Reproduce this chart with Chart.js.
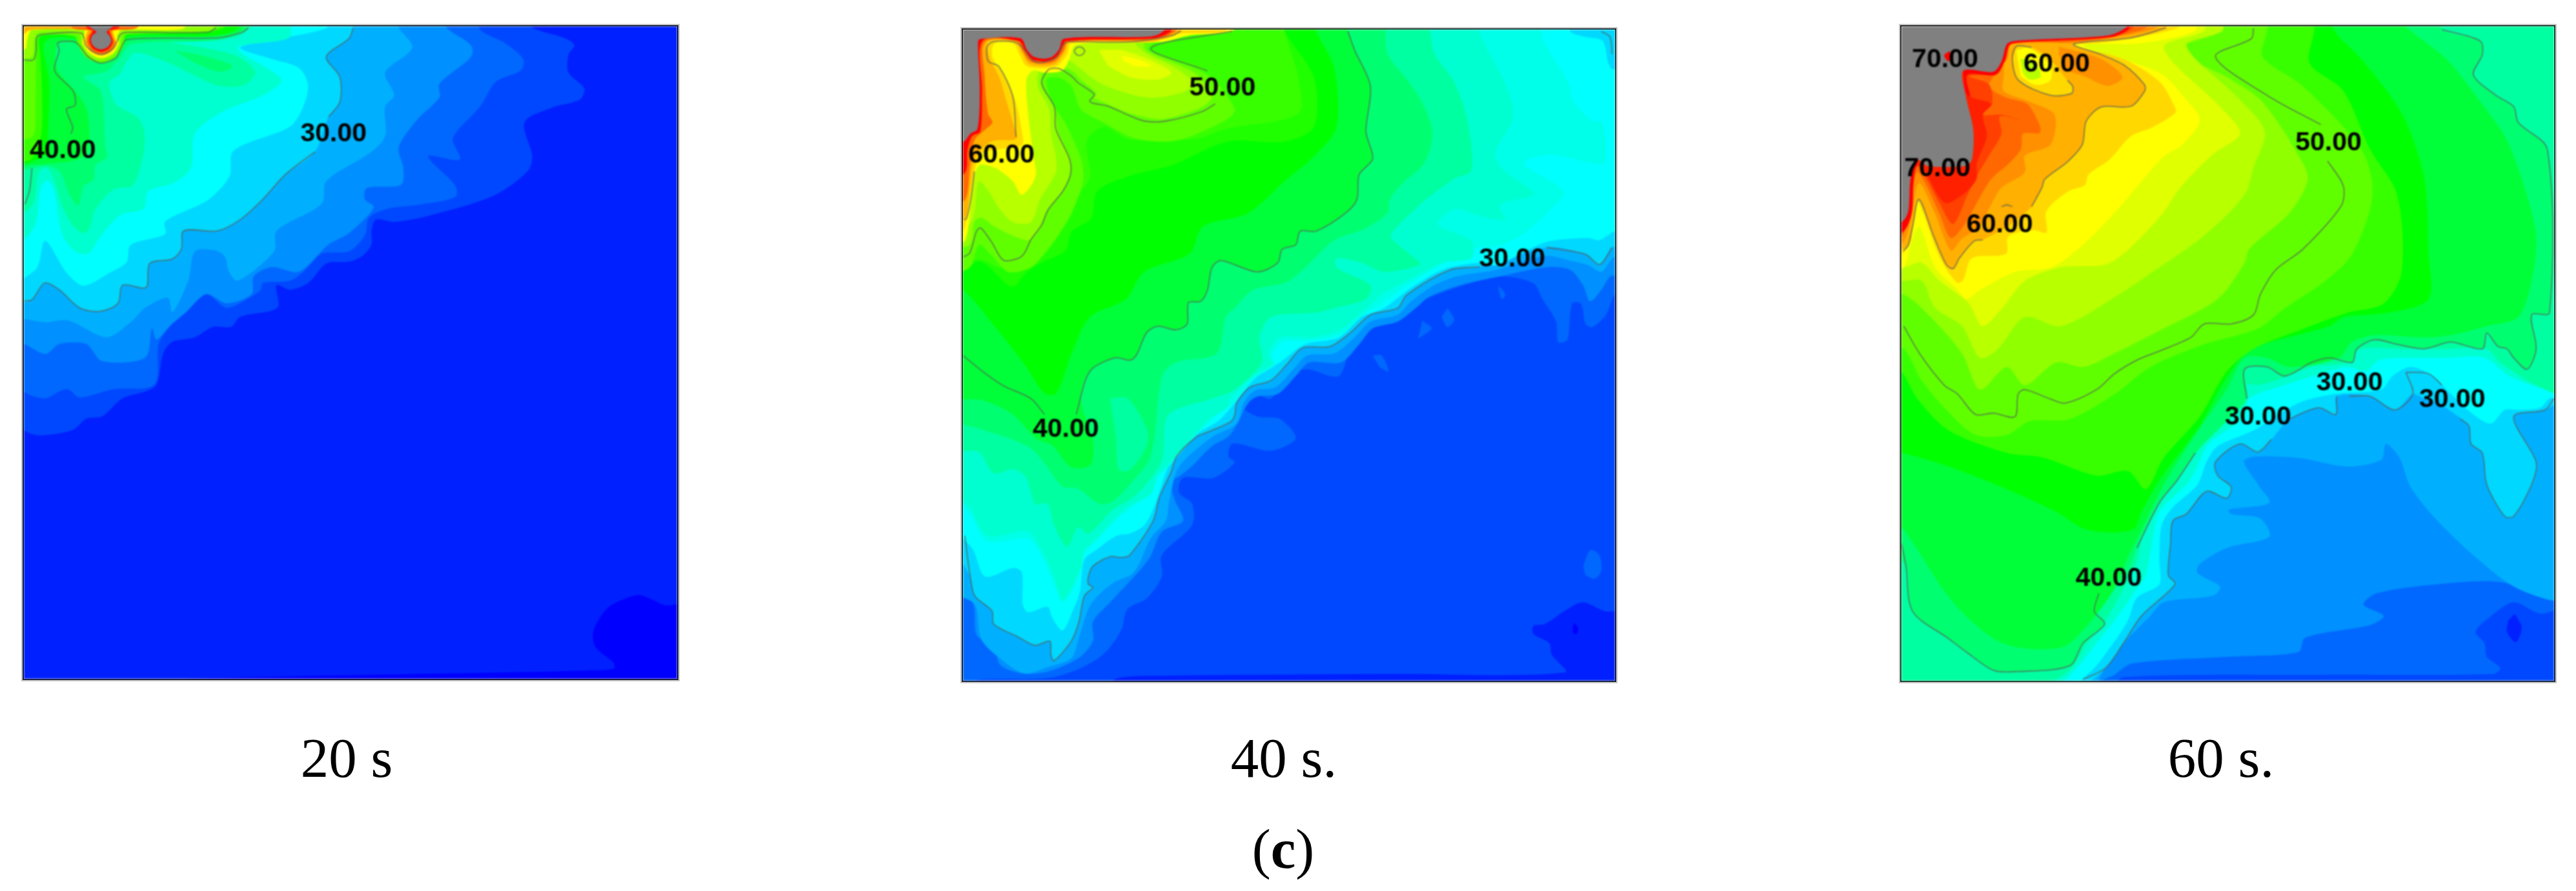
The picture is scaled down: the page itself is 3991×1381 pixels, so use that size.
<!DOCTYPE html>
<html>
<head>
<meta charset="utf-8">
<title>Temperature contours</title>
<script src="https://cdn.jsdelivr.net/npm/chart.js@4/dist/chart.umd.min.js"></script>
<style>
  html, body { margin: 0; background: #fff; width: 3991px; height: 1381px; overflow: hidden; }
  .panel { position: absolute; box-shadow: 0 0 0 2px #1c1c1c, 0 0 0 4px #c4c4c4; }
  .panel canvas { display: block; filter: blur(0.8px); }
  .caption { position: absolute; width: 600px; margin-left: -300px; text-align: center; white-space: nowrap;
             font: 87px/100px "Liberation Serif", serif; color: #000; }
</style>
</head>
<body>
<div class="caption" style="left:537px;top:1125px">20 s</div>
<div class="caption" style="left:1989px;top:1125px">40 s.</div>
<div class="caption" style="left:3441px;top:1125px">60 s.</div>
<div class="caption" style="left:1988px;top:1266px">(<b>c</b>)</div>
<script>
// colour bands of the solver legend, coldest to hottest, then the out of range grey
// the last two are in-between shades that only the 40 s panel needs
const bandColors = ['#0000ff','#0020ff','#0048ff','#0068ff','#0090ff','#00b0ff','#00d8ff','#00ffff','#00ffd0','#00ffa0',
  '#00ff70','#00ff38','#00ff00','#38ff00','#60ff00','#90ff00','#b8ff00','#e0ff00','#ffff00','#ffd800','#ffb000',
  '#ff9000','#ff6800','#ff4000','#ff2000','#ff0000','#808080','#20ff00','#00ffe8'];

// ---- 20 s: band outlines as x,y pairs in the panel's own units
const t20_b1 = [30,40,1520,40,1520,1520,30,1520];
const t20_b0 = [1520,1330,1470,1338,1440,1325,1410,1315,1375,1325,1340,1345,1310,1395,1315,1430,1355,1465,1355,1478,1280,1482,1000,1488,500,1498,30,1510,1520,1520];
const t20_b2 = [1170,40,1175,60,1250,85,1268,100,1255,120,1255,160,1290,195,1280,220,1220,237,1158,270,1175,345,1165,378,1090,432,940,478,870,490,830,485,820,510,820,540,800,565,770,578,720,582,680,625,640,640,610,630,612,680,530,700,510,722,470,722,430,745,380,755,360,780,345,850,320,865,270,880,225,920,190,925,160,950,90,962,60,955,30,930,30,40];
const t20_b3 = [1060,40,1060,66,1115,95,1155,130,1150,155,1095,180,1060,235,1000,305,1015,352,945,345,1005,410,1005,435,925,452,860,460,815,480,805,520,770,555,710,560,670,600,640,620,580,625,575,640,555,655,500,680,455,650,410,690,375,720,350,760,340,850,250,860,175,878,150,860,130,865,100,880,60,870,30,840,30,40];
const t20_b4 = [985,40,985,60,1040,100,1040,125,970,185,970,215,920,265,880,325,890,370,885,408,810,415,805,440,825,458,770,515,725,540,660,600,600,590,560,610,555,650,500,670,455,650,410,690,375,720,345,750,335,725,320,790,225,798,190,760,130,760,100,782,52,760,30,760,30,40];
const t20_b5 = [880,40,880,60,910,105,850,160,870,210,850,235,850,300,820,335,720,400,710,450,610,510,605,555,525,620,505,600,495,565,470,552,430,555,415,620,380,690,370,658,320,680,290,710,235,745,150,708,100,712,52,705,30,705,30,40];
const t20_b6 = [780,40,780,60,770,85,720,125,750,170,750,225,725,258,695,335,630,385,580,440,530,485,480,510,405,510,400,550,380,572,330,582,322,635,270,630,260,670,220,688,175,680,130,640,98,625,70,662,30,665,30,40];
const t20_b7 = [720,40,720,62,600,88,530,105,600,130,660,150,680,190,665,245,638,281,515,333,506,390,458,442,364,489,364,517,288,541,279,579,241,603,184,631,146,602,99,532,80,593,30,617,30,40];
const t20_b8 = [640,40,638,83,525,106,621,175,581,210,492,246,430,295,421,371,383,404,326,423,317,461,265,475,222,522,194,560,165,555,137,518,118,418,104,399,90,413,76,499,30,541,30,40];
const t20_b9 = [553,40,553,59,515,83,373,90,515,120,563,158,539,187,482,189,421,163,373,139,298,116,274,144,265,163,241,182,255,229,302,258,317,286,317,333,293,409,250,418,208,466,198,503,184,515,161,499,137,456,123,409,104,371,85,380,71,451,30,475,30,40];
const t20_b10 = [30,40,560,40,548,62,482,88,290,97,262,130,232,158,184,170,222,201,232,324,236,347,210,366,206,397,184,411,172,454,154,433,132,380,104,366,71,371,30,380];
const t20_b10a = [383,111,437,120,510,142,510,151,482,158,430,139];
const t20_b11 = [30,40,540,40,530,68,480,80,285,88,262,115,225,140,190,125,165,95,127,94,125,150,165,200,190,240,197,300,190,340,160,355,100,362,60,365,30,370];
const t20_b12 = [30,40,535,40,520,65,470,78,285,80,265,100,245,120,222,128,195,115,178,92,165,84,110,84,95,100,108,180,105,300,100,340,60,360,30,362];
const t20_b13 = [30,40,500,40,490,64,300,76,270,78,268,105,245,130,222,136,195,125,175,100,165,80,95,76,85,85,88,120,92,200,90,300,70,350,30,360];
const t20_b14 = [30,40,490,40,470,68,280,76,270,105,252,128,222,138,192,128,172,100,165,80,90,78,80,90,78,230,72,300,30,310];
const t20_b15 = [30,40,470,40,465,66,272,72,265,100,250,122,222,133,195,122,178,95,175,74,84,72,75,90,70,125,30,130];
const t20_b18 = [30,40,420,40,400,64,268,66,258,80,262,95,248,118,222,128,198,118,182,95,185,75,185,66,70,66,60,85,55,108,30,110];
const t20_b20 = [30,40,300,40,300,61,250,66,252,80,256,95,245,114,222,122,200,114,188,95,190,75,193,66,80,64,60,68,52,75,30,75];
const t20_b22 = [150,40,160,62,200,68,193,80,192,95,203,111,222,118,243,111,253,95,248,80,246,68,300,62,320,40];
const t20_b25 = [185,40,190,60,205,67,199,78,197,92,205,107,222,114,240,107,248,92,244,78,240,67,262,60,270,40];
const t20_b26 = [195,40,197,58,212,70,203,78,200,90,207,103,222,109,238,103,245,90,241,78,235,70,248,58,250,40];
const t20_line30 = [780,60,770,85,720,125,750,170,750,225,725,258];
const t20_line30b = [695,335,630,385,580,440,530,485,480,510,405,510,400,550,380,572,330,582,322,635,270,630,260,670,220,688,175,680,130,640,98,625,70,662,52,665];
const t20_line40 = [548,61,534,71,482,83,279,87,265,109,255,128,222,139,194,125,179,106,165,92,127,94,130,111,120,156,161,201,165,232,146,241,160,281,156,295];
const t20_line40b = [70,371,64,423,54,451];
const t20_line50 = [52,132,73,132,79,111,80,83,90,76,180,73,189,101,222,120,250,106,265,76,279,71,458,71,477,61];
const t20_labels = ['40.00','30.00'];
const t20_labelPos = [138,333,736,296];

// ---- 40 s
const t40_b2 = [30,40,1520,40,1520,1530,30,1530];
const t40_b1 = [1520,1345,1480,1350,1430,1330,1395,1345,1345,1378,1320,1382,1320,1400,1355,1420,1360,1445,1390,1485,1000,1488,500,1492,400,1498,380,1520,1520,1520];
const t40_b0 = [1410,1375,1418,1385,1416,1400,1408,1398,1407,1385];
const t40_b3 = [1520,650,1500,650,1480,695,1450,722,1435,715,1425,670,1405,670,1395,750,1375,755,1370,710,1340,660,1320,625,1250,610,1180,625,1080,660,1000,695,920,760,890,830,820,815,790,825,740,880,713,875,680,900,713,920,760,925,795,968,740,995,656,979,646,1007,660,1021,613,1055,546,1055,537,1088,566,1112,566,1159,499,1226,499,1273,466,1321,423,1345,409,1392,371,1444,314,1478,247,1497,100,1500,30,1510,30,40,1520,40];
const t40_b3a = [1243,630,1258,650,1250,660,1243,640];
const t40_b3b = [1130,680,1145,705,1130,722,1117,700];
const t40_b3c = [1075,708,1095,725,1065,748];
const t40_b3d = [965,785,985,785,1000,820,980,810];
const t40_b3e = [1430,1250,1445,1215,1465,1225,1470,1260,1455,1278,1435,1270];
const t40_b4 = [1520,610,1490,610,1470,640,1445,665,1430,630,1400,595,1345,590,1245,610,1155,630,1090,655,1060,680,1020,710,965,725,935,760,895,800,825,800,795,830,755,870,710,875,690,890,650,960,610,985,565,1030,540,1050,520,1064,527,1102,546,1150,499,1174,470,1235,385,1330,347,1373,347,1416,314,1454,247,1483,190,1487,142,1468,128,1425,90,1402,81,1330,30,1296,30,40,1520,40];
const t40_b5 = [1520,560,1495,570,1470,600,1440,585,1400,575,1345,565,1240,595,1150,610,1100,630,1050,665,1020,695,960,710,925,745,880,780,820,785,790,815,750,855,705,862,680,890,665,935,610,965,550,1015,530,1045,515,1110,508,1150,475,1188,437,1264,390,1288,342,1335,314,1416,299,1454,247,1473,195,1487,142,1454,100,1411,86,1335,30,1296,30,40,1520,40];
const t40_b6 = [1520,545,1494,546,1466,584,1435,561,1349,546,1202,589,1135,596,1040,651,1020,680,960,695,915,735,870,765,810,768,775,805,740,840,694,855,665,889,660,917,651,931,603,953,575,965,532,1007,520,1041,494,1098,480,1150,428,1226,409,1231,385,1229,347,1250,337,1273,337,1290,347,1297,328,1316,316,1373,299,1416,261,1459,254,1445,252,1416,219,1425,181,1406,128,1378,124,1349,86,1316,76,1273,30,1183,30,40,1520,40];
const t40_b7 = [1401,40,1401,69,1435,81,1473,90,1485,138,1494,152,1520,155,1520,510,1500,510,1465,530,1440,525,1345,535,1240,585,1200,580,1120,595,1050,635,990,680,940,700,890,745,815,760,760,800,710,830,646,907,622,931,580,955,537,993,513,1031,485,1112,461,1159,428,1178,399,1183,352,1216,328,1236,318,1307,304,1345,280,1392,257,1364,247,1340,204,1352,192,1335,190,1264,171,1254,109,1273,81,1212,30,1150,30,40];
const t40_b8a = [1340,40,1340,85,1397,181,1406,219,1449,266,1473,271,1478,356,1459,361,1363,342,1306,352,1302,366,1387,423,1354,466,1302,513,1245,542,1180,550,1090,600,1040,630,985,670,945,695,895,738,820,752,765,755,740,790,750,805,705,835,655,892,646,898,610,925,580,955,510,1035,490,1055,476,1092,430,1121,392,1154,358,1192,330,1220,320,1263,282,1330,261,1290,237,1235,204,1190,114,1195,76,1135,30,1069,30,40];
const t40_b8 = [1202,40,1202,76,1254,176,1276,257,1235,337,1254,375,1321,428,1254,447,1245,461,1259,485,1197,475,1150,461,1112,485,1112,499,1183,532,1183,570,1120,580,1040,620,985,650,940,690,890,730,830,745,760,745,735,780,745,800,700,830,650,880,646,898,610,921,580,950,508,1031,489,1050,475,1088,428,1117,390,1150,356,1188,328,1216,318,1259,280,1326,261,1273,237,1221,204,1174,114,1183,76,1121,30,1069,30,40];
const t40_b9 = [1090,40,1093,76,1102,119,1145,181,1173,261,1183,375,1145,394,1093,432,1074,447,1007,513,1007,527,1064,575,1069,585,990,600,940,580,885,570,885,590,960,630,950,660,880,680,840,690,740,700,715,745,720,800,660,860,610,880,513,917,499,1017,442,1093,390,1126,337,1178,314,1164,290,1207,261,1159,247,1112,219,1112,200,1055,171,1036,128,1045,95,998,30,988,30,40];
const t40_b10 = [993,40,993,71,998,119,1045,181,1078,233,1097,295,1078,361,1031,404,1002,442,998,470,945,506,880,530,780,620,700,640,660,680,640,700,620,780,530,800,500,830,475,1007,437,1060,390,1107,361,1112,314,1079,280,1074,242,1026,214,993,166,969,95,946,30,917,30,40];
const t40_b9a = [385,879,423,879,466,946,466,984,428,1038,404,1036,399,974];
const t40_b11 = [910,40,910,68,925,110,960,190,950,290,965,350,935,385,930,440,905,470,840,510,805,510,795,540,765,550,755,580,710,600,630,575,610,590,600,640,585,665,558,668,555,715,530,728,490,720,465,735,445,780,430,795,395,790,340,820,320,880,347,974,342,1026,299,1031,257,983,223,969,166,912,105,884,30,869,30,40];
const t40_b12 = [840,40,840,68,880,150,885,280,840,340,770,400,690,470,590,500,560,560,460,600,420,660,340,700,300,780,266,868,240,868,200,810,130,720,60,640,30,640,30,40];
const t40_b27 = [770,40,770,68,835,170,835,280,770,312,645,312,522,364,428,388,357,421,343,482,300,511,286,553,239,577,201,600,168,633,97,577,30,614,30,40];
const t40_b13 = [770,40,770,68,800,170,800,250,640,284,569,307,428,307,371,279,333,312,338,397,245,492,255,530,191,577,144,591,97,572,30,581,30,40];
const t40_b14 = [560,40,560,68,480,95,470,110,600,165,660,240,640,265,530,310,440,305,370,270,320,240,300,190,270,170,245,175,255,220,290,280,320,350,325,400,300,470,270,520,240,560,210,590,160,600,120,560,95,540,75,590,30,600,30,40];
const t40_b15 = [530,40,530,68,460,95,470,115,570,160,610,210,590,235,500,262,430,250,370,225,350,215,355,205,320,175,300,155,260,145,240,155,232,185,262,240,270,290,295,350,295,385,280,420,245,465,225,510,205,530,170,520,130,500,100,480,85,490,75,540,30,540,30,40];
const t40_b16 = [500,40,500,70,440,90,460,115,530,150,570,185,540,205,470,215,390,195,350,175,290,130,260,125,230,150,225,190,250,240,255,300,265,345,265,380,230,440,210,490,170,490,140,460,115,420,95,400,85,470,70,500,30,520,30,40];
const t40_b17 = [360,110,410,110,480,135,520,160,490,175,430,170,380,145];
const t40_b18 = [670,40,655,68,560,78,500,92,310,98,295,130,280,155,240,160,215,155,200,175,205,260,215,340,220,390,190,430,170,400,130,370,95,365,80,420,65,530,30,540,30,40];
const t40_b18a = [410,122,450,132,475,145,440,145,415,135];
const t40_b19 = [650,40,640,68,530,75,480,92,300,95,290,120,268,145,240,150,200,145,185,120,170,95,130,95,125,125,150,165,175,220,190,290,190,320,130,330,100,340,85,380,70,470,60,510,30,510,30,40];
const t40_b20 = [550,40,540,70,480,90,295,92,285,115,265,140,240,145,205,140,190,115,175,92,115,92,120,130,140,170,155,220,170,270,178,305,130,310,110,320,85,350,75,420,65,480,30,490,30,40];
const t40_b22 = [540,40,530,68,485,86,292,92,282,112,262,135,238,140,208,135,192,112,178,90,108,92,108,170,115,250,125,270,110,285,85,310,75,370,65,440,30,450,30,40];
const t40_b25 = [525,40,520,68,480,84,288,90,276,112,260,130,238,135,212,130,198,112,183,90,103,90,102,200,98,290,80,300,70,330,65,380,30,400,30,40];
const t40_b26 = [510,40,503,68,475,80,283,85,272,109,258,124,239,129,215,124,201,109,187,84,97,86,93,95,97,199,92,284,76,295,62,312,30,320,30,40];
const t40_line30 = [1494,546,1466,584,1435,561,1349,546];
const t40_line30b = [1202,589,1135,596,1040,651,1020,680,960,695,915,735,870,765,810,768,775,805,740,840,694,855,665,889,660,917,651,931,603,953,575,965,532,1007,520,1041,494,1098,480,1150,428,1226,409,1231,385,1229,347,1250,337,1273,337,1290,347,1297,328,1316,316,1373,299,1416,261,1459,254,1445,252,1416,219,1425,181,1406,128,1378,124,1349,86,1316,76,1273,64,1183];
const t40_line30c = [1470,69,1489,81,1494,119];
const t40_line40 = [910,68,925,110,960,190,950,290,965,350,935,385,930,440,905,470,840,510,805,510,795,540,765,550,755,580,710,600,630,575,610,590,600,640,585,665,558,668,555,715,530,728,490,720,465,735,445,780,430,795,395,790,340,820,310,915];
const t40_line40b = [240,915,210,880,150,852,110,825,60,785];
const t40_line50 = [617,229,588,246,508,267,461,267,428,255,380,234,345,227,340,222,350,208,314,182,300,168,272,151,248,154,234,184,262,236,265,284,295,350,298,383,281,421,248,463,234,496,210,529,196,558,182,570,149,574,123,534,99,503,90,510,75,558,61,567];
const t40_line50b = [655,68,475,106,600,156];
const t40_line50c = [305,112,312,104,322,104,329,112,322,121,312,121,305,112];
const t40_line60 = [177,302,170,213,139,146,116,135,113,104,125,92,172,92,191,104,213,132,232,138,267,125,281,99,295,92,428,92,522,78,541,68];
const t40_line60b = [85,378,78,435,68,482,62,485];
const t40_labels = ['60.00','50.00','40.00','30.00'];
const t40_labelPos = [145,343,633,194,287,948,1273,572];

// ---- 60 s
const t60_b3 = [30,40,1540,40,1540,1530,30,1530];
const t60_b2 = [1540,1340,1490,1355,1430,1330,1380,1360,1345,1395,1365,1420,1370,1450,1400,1475,1385,1488,1000,1490,560,1495,540,1520,1540,1520];
const t60_b1 = [1432,1355,1448,1385,1435,1418,1415,1395,1418,1370];
const t60_b4 = [540,1490,580,1465,800,1450,950,1440,965,1408,1110,1380,1140,1360,1095,1335,1125,1310,1260,1290,1400,1285,1500,1320,1540,1320,1540,40,30,40,30,1520,470,1520];
const t60_b5 = [1540,1325,1510,1325,1430,1295,1345,1230,1260,1150,1200,1075,1175,1010,1145,980,1135,1015,1060,1030,940,1010,830,1015,860,1070,885,1110,795,1125,800,1135,865,1145,885,1185,790,1210,730,1245,725,1265,775,1295,760,1315,650,1330,620,1360,570,1410,540,1450,510,1490,490,1520,30,1520,30,40,1540,40];
const t60_b6 = [1540,880,1500,905,1430,920,1480,1020,1470,1070,1430,1140,1410,1140,1370,1070,1360,1000,1335,980,1330,940,1300,915,1260,890,1230,880,1205,870,1165,905,1110,875,1035,875,1033,915,995,900,930,925,890,970,860,998,820,980,765,1020,770,1050,800,1075,790,1100,745,1085,700,1135,670,1150,665,1200,660,1270,675,1290,600,1360,560,1420,520,1475,470,1510,30,1520,30,40,1540,40];
const t60_b7 = [1540,880,1510,880,1490,900,1440,905,1410,905,1380,935,1340,915,1290,870,1250,830,1200,810,1160,830,1135,860,1030,870,950,890,850,950,770,985,745,1020,725,1070,670,1120,645,1160,640,1240,640,1290,590,1320,570,1370,530,1430,490,1480,430,1520,30,1520,30,40,1540,40];
const t60_b8 = [1540,865,1500,860,1420,830,1365,790,1280,790,1190,790,1130,795,1100,820,1060,810,1000,825,920,850,840,880,830,920,750,980,720,1040,700,1070,640,1130,625,1190,610,1270,590,1300,540,1370,500,1420,460,1470,400,1520,30,1520,30,40,1540,40];
const t60_b6a = [1405,995,1415,1020,1412,1045,1403,1025];
const t60_b9 = [1540,40,1540,865,1480,850,1400,800,1370,770,1280,770,1180,770,1090,770,1060,800,980,810,900,840,860,850,830,850,810,900,740,970,700,1020,660,1080,620,1130,600,1190,590,1240,560,1300,520,1370,480,1420,440,1480,380,1510,30,1520,30,40];
const t60_b10 = [1270,40,1270,65,1355,90,1360,120,1340,165,1390,210,1430,235,1440,270,1505,330,1510,690,1470,695,1480,770,1460,815,1430,790,1415,770,1395,765,1370,735,1360,770,1290,755,1230,770,1170,760,1120,750,1080,770,1070,800,1020,790,980,800,920,830,880,810,830,815,835,880,790,930,730,990,680,1060,640,1110,590,1210,560,1280,500,1310,495,1350,518,1378,470,1420,440,1470,320,1483,270,1480,210,1440,170,1410,90,1350,75,1250,30,1200,30,40];
const t60_b11 = [1190,40,1190,58,1280,130,1360,230,1410,300,1450,400,1480,520,1470,620,1440,700,1370,720,1290,740,1230,745,1120,740,1070,755,1040,790,930,810,880,790,830,790,790,860,720,960,650,1070,600,1170,570,1230,540,1300,480,1380,420,1430,290,1420,180,1330,70,1170,30,1140,30,40];
const t60_b12 = [1030,40,1030,68,1090,130,1180,250,1230,390,1240,560,1240,660,1150,690,1050,700,1020,720,870,760,830,780,780,850,730,940,640,1060,600,1130,580,1170,480,1170,410,1130,300,1080,170,1030,65,1000,30,1000,30,40];
const t60_b13 = [985,40,985,68,975,140,1050,200,1110,330,1170,430,1180,600,1140,670,1060,690,950,730,850,770,790,820,730,920,650,1010,610,1080,570,1040,500,1050,380,1010,300,1000,170,950,100,880,65,820,30,800,30,40];
const t60_b14 = [880,40,880,68,870,125,960,190,1090,330,1115,430,1070,560,1010,620,920,680,860,725,740,760,620,810,540,870,440,925,350,930,300,960,230,960,170,910,110,840,70,770,30,770,30,40];
const t60_b15 = [780,40,780,68,680,110,790,170,870,225,960,360,970,400,930,470,840,550,830,580,770,660,640,730,540,780,470,810,410,800,340,850,300,810,240,860,200,780,130,700,70,650,30,660,30,40];
const t60_b16 = [780,40,780,68,700,100,820,220,875,290,850,370,830,430,740,520,640,590,550,650,420,720,340,700,280,770,240,790,200,720,140,680,110,620,70,620,30,620,30,40];
const t60_b17 = [740,40,740,68,650,105,780,240,820,295,760,340,690,410,640,480,530,580,420,590,340,620,290,680,245,720,215,670,150,620,110,580,70,590,30,590,30,40];
const t60_b18 = [720,40,720,68,600,95,470,100,640,160,700,220,730,265,690,320,650,345,600,400,540,470,470,540,400,590,320,600,240,640,210,660,190,640,140,590,105,500,88,530,70,590,30,600,30,40];
const t60_b19 = [690,40,680,62,530,92,450,98,440,100,560,130,640,180,671,229,676,248,624,281,577,300,529,352,482,385,473,409,435,423,388,466,388,513,359,508,303,522,298,560,222,570,203,617,189,624,151,570,113,470,99,442,80,546,30,574,30,40];
const t60_b20 = [655,40,655,61,577,83,449,97,510,120,562,144,607,187,607,201,577,234,510,236,477,267,468,319,435,357,385,395,378,414,355,456,300,500,246,529,227,532,194,570,180,593,165,584,137,522,104,440,90,499,80,541,30,553,30,40];
const t60_b21 = [640,40,630,62,560,78,450,95,302,97,293,168,293,201,350,224,406,253,397,319,340,343,340,380,288,414,265,451,236,503,199,527,175,553,137,465,104,404,85,489,67,536,30,536,30,40];
const t60_b21a = [416,102,510,130,558,170,525,189,473,168,435,154,416,120];
const t60_b22 = [620,40,610,61,540,80,440,92,310,98,300,130,274,163,260,191,298,215,345,229,373,276,373,293,336,295,331,329,303,362,265,395,236,442,203,499,175,525,151,475,118,404,99,380,85,456,66,522,30,522,30,40];
const t60_b23 = [590,40,580,62,535,80,320,92,306,99,296,130,278,160,217,168,260,186,267,229,246,253,288,253,331,265,284,257,288,295,260,343,232,390,213,428,180,494,151,451,118,390,95,362,85,430,70,505,30,510,30,40];
const t60_b24 = [203,158,213,210,265,229,246,253,255,300,232,362,232,395,203,428,161,447,118,380,95,360,30,360,30,180];
const t60_b25 = [580,40,570,65,530,82,320,94,305,100,295,135,275,165,212,165,218,210,235,290,232,358,225,385,210,410,175,410,123,372,100,365,92,400,88,470,70,510,30,520,30,40];
const t60_b26 = [575,40,565,61,525,78,317,90,300,97,288,135,270,158,203,156,208,210,225,286,222,352,208,366,123,366,99,352,85,395,80,466,67,489,30,500,30,40];
const t60_b25a = [172,112,160,122,170,135,176,124];
const t60_b19a = [321,102,355,104,395,130,435,177,447,191,444,206,397,210,326,177,312,130];
const t60_b18a = [321,111,350,106,397,144,397,177,364,187,331,168];
const t60_b16a = [330,130,350,130,370,150,375,170,350,175,335,160];
const t60_line30 = [1520,880,1500,905,1430,920,1480,1020,1470,1070,1430,1140,1410,1140,1370,1070,1360,1000,1335,980,1330,940,1310,925];
const t60_line30b = [1190,822,1240,825,1270,850];
const t60_line30c = [1190,822,1205,870,1165,905,1110,875,1063,875];
const t60_line30d = [1035,875,1033,915,995,900,930,925];
const t60_line30e = [890,970,860,998,820,980,765,1020,770,1050,800,1075,790,1100,745,1085,700,1135,670,1150,665,1200,660,1270,675,1290,600,1360,560,1420,520,1475,470,1500];
const t60_line40 = [1270,65,1355,90,1360,120,1340,165,1390,210,1430,235,1440,270,1505,330,1510,690,1470,695,1480,770,1460,815,1430,790,1415,770,1395,765,1370,735,1360,770,1290,755,1230,770,1170,760,1120,750,1080,770,1070,800,1020,790,980,800,920,830,880,810,830,815,835,880];
const t60_line40b = [720,1000,680,1060,640,1110,590,1210];
const t60_line40c = [505,1310,495,1350,518,1378,470,1420,440,1470,320,1483,270,1480,210,1440,170,1410,90,1350,75,1250,65,1200];
const t60_line50 = [850,62,845,85,765,125,880,210,1000,275];
const t60_line50b = [1015,355,1050,410,1045,455,960,550,900,595,865,650,850,695,800,715,740,715,710,745,640,775,590,795,540,825,500,860,430,890,395,880,340,860,325,870,318,920,270,912,230,915,190,870,160,850,105,780,70,720];
const t60_line60 = [655,61,577,83,449,97,510,120,562,144,607,187,607,201,577,234,510,236,477,267,468,319,435,357,385,395,378,414,355,456];
const t60_line60b = [288,456,300,452,312,456];
const t60_line60c = [246,529,227,532,194,570,180,593,165,584,137,522,104,440,90,499,80,541,69,553];
const t60_line60d = [355,104,321,102,312,130,326,177,397,210,444,206,447,191,435,177];
const t60_labels = ['70.00','60.00','70.00','60.00','50.00','30.00','30.00','30.00','40.00'];
const t60_labelPos = [162,131,411,142,145,372,284,497,1017,316,860,921,1064,845,1293,882,527,1278];

// painting order is coldest first, so each band covers the one under it
const panels = [
  { id: 't20', box: [36.5, 40.7, 1012, 1011], xr: [52, 1495], yr: [58, 1500], labels: t20_labels, labelPos: t20_labelPos,
    bands: [[1,t20_b1],[0,t20_b0],[2,t20_b2],[3,t20_b3],[4,t20_b4],[5,t20_b5],[6,t20_b6],[7,t20_b7],[8,t20_b8],[9,t20_b9],[10,t20_b10],[10,t20_b10a],[11,t20_b11],[12,t20_b12],[13,t20_b13],[14,t20_b14],[15,t20_b15],[18,t20_b18],[20,t20_b20],[22,t20_b22],[25,t20_b25],[26,t20_b26]],
    lines: [t20_line30,t20_line30b,t20_line40,t20_line40b,t20_line50] },
  { id: 't40', box: [1492, 45.6, 1010, 1009], xr: [60, 1500], yr: [65, 1503], labels: t40_labels, labelPos: t40_labelPos,
    bands: [[2,t40_b2],[1,t40_b1],[0,t40_b0],[3,t40_b3],[3,t40_b3a],[3,t40_b3b],[3,t40_b3c],[3,t40_b3d],[3,t40_b3e],[4,t40_b4],[5,t40_b5],[6,t40_b6],[7,t40_b7],[28,t40_b8a],[8,t40_b8],[9,t40_b9],[10,t40_b10],[9,t40_b9a],[11,t40_b11],[12,t40_b12],[27,t40_b27],[13,t40_b13],[14,t40_b14],[15,t40_b15],[16,t40_b16],[17,t40_b17],[18,t40_b18],[18,t40_b18a],[19,t40_b19],[20,t40_b20],[22,t40_b22],[25,t40_b25],[26,t40_b26]],
    lines: [t40_line30,t40_line30b,t40_line30c,t40_line40,t40_line40b,t40_line50,t40_line50b,t40_line50c,t40_line60,t40_line60b] },
  { id: 't60', box: [2945.6, 40.7, 1011, 1014], xr: [65, 1520], yr: [58, 1503], labels: t60_labels, labelPos: t60_labelPos,
    bands: [[3,t60_b3],[2,t60_b2],[1,t60_b1],[4,t60_b4],[5,t60_b5],[6,t60_b6],[7,t60_b7],[8,t60_b8],[9,t60_b9],[10,t60_b10],[11,t60_b11],[12,t60_b12],[13,t60_b13],[14,t60_b14],[15,t60_b15],[16,t60_b16],[17,t60_b17],[18,t60_b18],[19,t60_b19],[20,t60_b20],[21,t60_b21],[21,t60_b21a],[22,t60_b22],[23,t60_b23],[24,t60_b24],[25,t60_b25],[24,t60_b24],[26,t60_b26],[25,t60_b25a],[19,t60_b19a],[18,t60_b18a],[16,t60_b16a]],
    lines: [t60_line30,t60_line30b,t60_line30c,t60_line30d,t60_line30e,t60_line40,t60_line40b,t60_line40c,t60_line50,t60_line50b,t60_line60,t60_line60b,t60_line60c,t60_line60d] }
];

function toPoints(flat) {
  const pts = [];
  for (let i = 0; i < flat.length; i += 2) pts.push({ x: flat[i], y: flat[i + 1] });
  return pts;
}

// contour values are printed over the field
const contourLabels = {
  id: 'contourLabels',
  afterDatasetsDraw(chart, args, opts) {
    const { ctx, scales } = chart;
    ctx.save();
    ctx.font = 'bold 41px "Liberation Sans", Arial, sans-serif';
    ctx.fillStyle = '#000';
    ctx.textAlign = 'center';
    ctx.textBaseline = 'middle';
    opts.labels.forEach((text, i) => {
      ctx.fillText(text, scales.x.getPixelForValue(opts.pos[i * 2]), scales.y.getPixelForValue(opts.pos[i * 2 + 1]));
    });
    ctx.restore();
  }
};

panels.forEach(p => {
  const wrap = document.createElement('div');
  wrap.className = 'panel';
  wrap.style.cssText = `left:${p.box[0]}px;top:${p.box[1]}px;width:${p.box[2]}px;height:${p.box[3]}px`;
  const canvas = document.createElement('canvas');
  canvas.id = p.id;
  canvas.width = p.box[2];
  canvas.height = p.box[3];
  wrap.appendChild(canvas);
  document.body.appendChild(wrap);

  // lower index is drawn on top in Chart.js, so the order value does the stacking
  const datasets = [];
  p.bands.forEach(([band, flat], i) => {
    datasets.push({
      label: 'band ' + band, data: toPoints(flat), showLine: true, fill: 'shape',
      backgroundColor: bandColors[band], borderWidth: 0, pointRadius: 0, tension: 0.3, order: 1000 - i
    });
  });
  p.lines.forEach((flat, i) => {
    datasets.push({
      label: 'contour', data: toPoints(flat), showLine: true, fill: false,
      borderColor: 'rgba(85,95,90,0.75)', borderWidth: 1.8, pointRadius: 0, tension: 0.3, order: -i
    });
  });

  new Chart(canvas, {
    type: 'scatter',
    data: { datasets },
    options: {
      responsive: false,
      animation: false,
      events: [],
      layout: { padding: 0 },
      elements: { line: { capBezierPoints: false } },
      scales: {
        x: { type: 'linear', display: false, min: p.xr[0], max: p.xr[1] },
        y: { type: 'linear', display: false, min: p.yr[0], max: p.yr[1], reverse: true }
      },
      plugins: {
        legend: { display: false },
        tooltip: { enabled: false },
        contourLabels: { labels: p.labels, pos: p.labelPos }
      }
    },
    plugins: [contourLabels]
  });
});
</script>
</body>
</html>
